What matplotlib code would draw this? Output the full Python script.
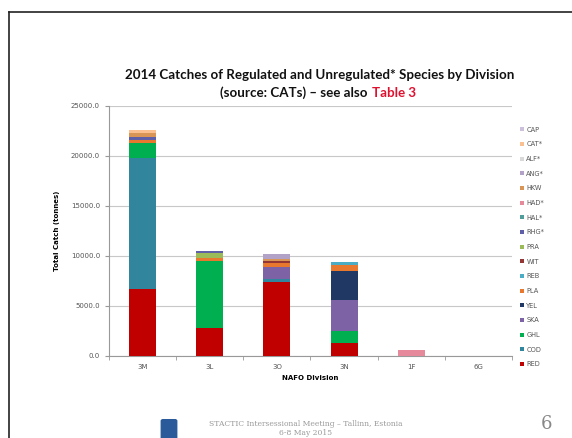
import numpy as np
import matplotlib
matplotlib.use("Agg")
import matplotlib.pyplot as plt
from matplotlib.lines import Line2D
from matplotlib.patches import FancyBboxPatch

# divisions on the x axis
divisions = ["3M", "3L", "3O", "3N", "1F", "6G"]

# species, stacked bottom -> top (legend shows them top -> bottom)
species = ["RED", "COD", "GHL", "SKA", "YEL", "PLA", "REB", "WIT", "PRA",
           "RHG*", "HAL*", "HAD*", "HKW", "ANG*", "ALF*", "CAT*", "CAP"]

# catches (tonnes) per division
RED = [6700, 2830, 7430, 1300, 0, 0]
COD = [13100, 0, 240, 0, 0, 0]
GHL = [1450, 6700, 0, 1160, 0, 0]
SKA = [0, 0, 1270, 3170, 0, 0]
YEL = [0, 0, 0, 2830, 0, 0]
PLA = [330, 240, 350, 670, 0, 0]
REB = [0, 0, 0, 300, 0, 0]
WIT = [0, 0, 200, 0, 0, 0]
PRA = [0, 500, 0, 0, 0, 0]
RHG = [330, 230, 0, 0, 0, 0]
HAL = [0, 0, 0, 0, 0, 0]
HAD = [0, 0, 0, 0, 650, 0]
HKW = [370, 0, 250, 0, 0, 0]
ANG = [0, 0, 450, 0, 0, 0]
ALF = [0, 0, 0, 0, 0, 0]
CAT = [300, 0, 0, 0, 0, 0]
CAP = [0, 0, 0, 0, 0, 0]

catches = [RED, COD, GHL, SKA, YEL, PLA, REB, WIT, PRA,
           RHG, HAL, HAD, HKW, ANG, ALF, CAT, CAP]

colors = ["#C00000", "#31859C", "#00B050", "#7E62A6", "#1F3864", "#E8782E",
          "#4BACC6", "#943634", "#9BBB59", "#5F5FA8", "#4F9E9A", "#E6899A",
          "#D99555", "#B3A2C7", "#D9D9D9", "#FAC090", "#CCC0DA"]

yticks = [0, 5000, 10000, 15000, 20000, 25000]

W, H = 572, 438
fig = plt.figure(figsize=(W / 100, H / 100), dpi=100)
fig.patch.set_facecolor("white")

ax = fig.add_axes([109 / W, 1 - 356 / H, (512 - 109) / W, (356 - 106) / H])

x = np.arange(len(divisions))
bottom = np.zeros(len(divisions))
handles = []
for name, vals, c in zip(species, catches, colors):
    vals = np.array(vals, dtype=float)
    b = ax.bar(x, vals, 0.4, bottom=bottom, color=c, label=name, zorder=3)
    bottom += vals
    handles.append(b)

ax.set_xlim(-0.5, len(divisions) - 0.5)
ax.set_ylim(0, 25000)
ax.set_yticks(yticks)
ax.set_yticklabels(["%.1f" % v for v in yticks])
ax.set_xticks(x)
ax.set_xticklabels(divisions)
ax.set_xticks(np.arange(len(divisions) + 1) - 0.5, minor=True)
ax.tick_params(axis="x", which="major", length=0, labelsize=5, colors="#555555", pad=6)
ax.tick_params(axis="x", which="minor", length=3, color="#999999")
ax.tick_params(axis="y", length=3, labelsize=5, colors="#555555", color="#999999")
ax.grid(axis="y", color="#c8c8c8", linewidth=0.8, zorder=0)
for s in ["top", "right"]:
    ax.spines[s].set_visible(False)
ax.spines["left"].set_color("#999999")
ax.spines["bottom"].set_color("#999999")

ax.set_ylabel("Total Catch (tonnes)", fontsize=5, fontweight="bold", labelpad=8)
ax.set_xlabel("NAFO Division", fontsize=5, fontweight="bold", labelpad=3)

leg = fig.legend(handles[::-1], species[::-1], loc="upper left",
                 bbox_to_anchor=(517 / W, 1 - 124 / H), frameon=False,
                 fontsize=4.8, handlelength=0.6, handleheight=0.6,
                 handletextpad=0.4, labelspacing=1.3, borderaxespad=0)
for t in leg.get_texts():
    t.set_color("#555555")

# title
fig.text(320 / W, 1 - 75 / H, "2014 Catches of Regulated and Unregulated* Species by Division",
         ha="center", va="center", fontsize=9.6, fontweight="bold", family="Lato", color="#111111")
fig.text(371 / W, 1 - 93 / H, "(source: CATs) \u2013 see also ",
         ha="right", va="center", fontsize=9.6, fontweight="bold", family="Lato", color="#111111")
fig.text(372 / W, 1 - 93 / H, "Table 3",
         ha="left", va="center", fontsize=9.6, fontweight="bold", family="Lato", color="#E0102F")

# slide frame
fig.add_artist(Line2D([9 / W, 1], [1 - 12 / H, 1 - 12 / H], color="#222222", lw=1.2))
fig.add_artist(Line2D([9 / W, 9 / W], [0, 1 - 12 / H], color="#222222", lw=1.2))

# footer
fig.add_artist(FancyBboxPatch((163 / W, 0), 12 / W, 17 / H,
                              boxstyle="round,pad=0.003", facecolor="#2A5A9A",
                              edgecolor="#2A5A9A", transform=fig.transFigure))
fig.text(306 / W, 1 - 424 / H, "STACTIC Intersessional Meeting \u2013 Tallinn, Estonia",
         ha="center", va="center", fontsize=5.5, family="DejaVu Serif", color="#9a9a9a")
fig.text(306 / W, 1 - 433 / H, "6-8 May 2015",
         ha="center", va="center", fontsize=5.5, family="DejaVu Serif", color="#9a9a9a")
fig.text(546 / W, 1 - 424 / H, "6", ha="center", va="center", fontsize=13,
         family="DejaVu Serif", color="#888888")

fig.savefig("out.png", dpi=100)
